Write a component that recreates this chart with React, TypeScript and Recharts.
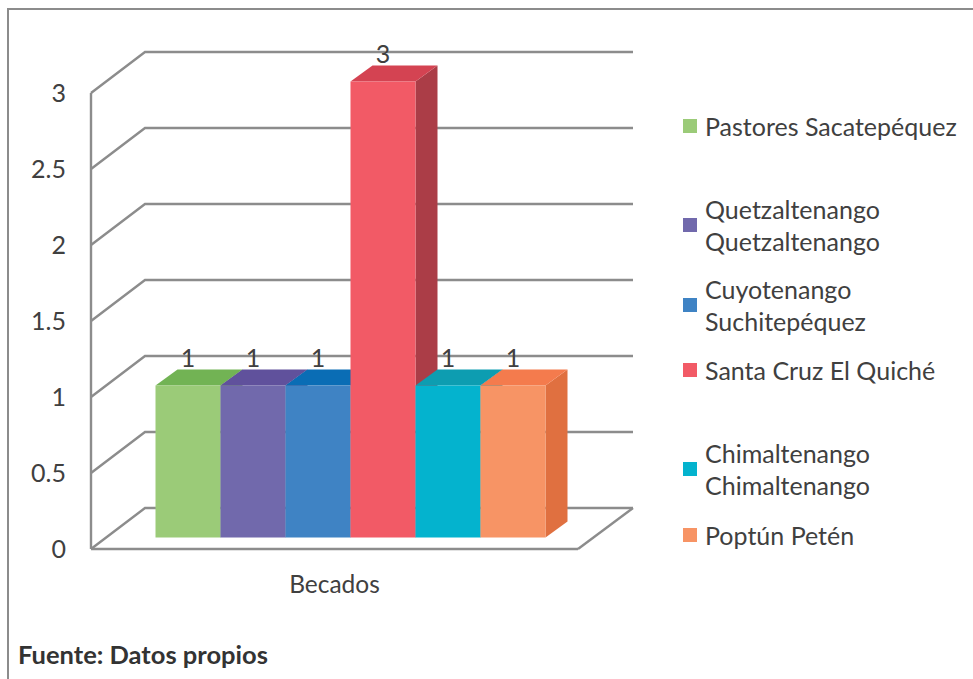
import { BarChart, Bar, XAxis, YAxis, CartesianGrid, Legend, LabelList } from 'recharts';

const categories = ['Becados'];
const seriesNames = [
  'Pastores Sacatepéquez',
  'Quetzaltenango Quetzaltenango',
  'Cuyotenango Suchitepéquez',
  'Santa Cruz El Quiché',
  'Chimaltenango Chimaltenango',
  'Poptún Petén',
];
const seriesValues = [1, 1, 1, 3, 1, 1];
const yTicks = [0, 0.5, 1, 1.5, 2, 2.5, 3];

const FRONT_COLORS = ['#9bcb78', '#7169ac', '#3f83c4', '#f25a66', '#04b3ce', '#f79465'];
const TOP_COLORS = ['#72b354', '#60519c', '#0a6db5', '#d44352', '#0d9db1', '#f47b4d'];
const SIDE_COLORS = ['#7fa860', '#5a528c', '#2f6a9f', '#ab3d47', '#0a8ea3', '#e07040'];

// vertical centre of each legend row, the rows are not evenly spaced in the original
const LEGEND_CENTERS = [126, 225, 305, 370, 469, 535];

const TEXT = '#404040';
const LINE = '#8c8c8c';
const FONT = 'Lato, sans-serif';
const PLOT_BOTTOM = 549;
const WALL_DX = 54;
const WALL_DY = -41;
const BAR_SHIFT_X = 15.5;
const BAR_SHIFT_Y = -11.5;
const DEPTH_DX = 22;
const DEPTH_DY = -16;

const data = categories.map((name) => {
  const row: { [key: string]: any } = { name };
  seriesNames.forEach((s, i) => {
    row[s] = seriesValues[i];
  });
  return row;
});

function GridLine({ x1, x2, y1 }: any) {
  const isFloor = Math.abs(y1 - PLOT_BOTTOM) < 1;
  const backLeft = x1 + WALL_DX;
  const backRight = x2 + WALL_DX + 1;
  const backY = y1 + WALL_DY;
  return (
    <g key={y1}>
      <path d={`M${x1},${y1} L${backLeft},${backY} L${backRight},${backY}`} fill="none" stroke={LINE} strokeWidth={2.4} />
      {isFloor && <path d={`M${backRight},${backY} L${x2},${y1}`} fill="none" stroke={LINE} strokeWidth={2.4} />}
    </g>
  );
}

function Bar3D({ x, y, width, height, index }: any) {
  const left = x + BAR_SHIFT_X;
  const right = left + width;
  const top = y + BAR_SHIFT_Y;
  const bottom = top + height;
  return (
    <g>
      <path
        d={`M${right},${top} L${right + DEPTH_DX},${top + DEPTH_DY} L${right + DEPTH_DX},${bottom + DEPTH_DY} L${right},${bottom} Z`}
        fill={SIDE_COLORS[index]}
      />
      <path
        d={`M${left},${top} L${left + DEPTH_DX},${top + DEPTH_DY} L${right + DEPTH_DX},${top + DEPTH_DY} L${right},${top} Z`}
        fill={TOP_COLORS[index]}
      />
      <rect x={left} y={top} width={width} height={height} fill={FRONT_COLORS[index]} />
    </g>
  );
}

function LegendContent({ payload }: any) {
  return (
    <div style={{ position: 'relative', width: 293, height: 679 }}>
      {(payload || []).map((item: any, i: number) => (
        <div
          key={item.value}
          style={{
            position: 'absolute',
            left: 0,
            top: LEGEND_CENTERS[i],
            transform: 'translateY(-50%)',
            display: 'flex',
            alignItems: 'center',
            width: 293,
            fontFamily: FONT,
            fontSize: 25,
            lineHeight: '32px',
            color: TEXT,
          }}
        >
          <span style={{ width: 14, height: 14, background: item.color, marginLeft: 3, marginRight: 8, flexShrink: 0 }} />
          <span style={{ maxWidth: 265 }}>{item.value}</span>
        </div>
      ))}
    </div>
  );
}

export default function App() {
  return (
    <div style={{ position: 'absolute', left: 0, top: 0, width: 973, height: 679, overflow: 'hidden', background: '#fff' }}>
      <div
        style={{
          position: 'absolute',
          left: 7,
          top: 8,
          width: 980,
          height: 700,
          borderLeft: `2.5px solid ${LINE}`,
          borderTop: `2.5px solid ${LINE}`,
        }}
      />
      <BarChart
        width={973}
        height={679}
        data={data}
        barSize={65}
        barGap={0}
        margin={{ top: 93, right: 395, bottom: 80, left: 41 }}
        style={{ position: 'absolute', left: 0, top: 0 }}
      >
        <CartesianGrid vertical={false} horizontal={(props: any) => <GridLine {...props} />} />
        <XAxis
          dataKey="name"
          height={50}
          tickLine={false}
          tickMargin={21}
          axisLine={{ stroke: LINE, strokeWidth: 2.4 }}
          tick={{ fill: TEXT, fontSize: 24.5, fontFamily: FONT }}
        />
        <YAxis
          width={50}
          domain={[0, 3]}
          ticks={yTicks}
          interval={0}
          tickLine={false}
          tickSize={0}
          tickMargin={25}
          axisLine={{ stroke: LINE, strokeWidth: 2.4 }}
          tick={{ fill: TEXT, fontSize: 25, fontFamily: FONT }}
        />
        <Legend
          layout="horizontal"
          verticalAlign="middle"
          itemSorter={null}
          content={<LegendContent />}
          wrapperStyle={{ left: 680, top: 0, width: 293, height: 679 }}
        />
        {seriesNames.map((s, i) => (
          <Bar
            key={s}
            dataKey={s}
            name={s}
            fill={FRONT_COLORS[i]}
            isAnimationActive={false}
            shape={(props: any) => <Bar3D {...props} index={i} />}
          >
            <LabelList
              dataKey={s}
              position="top"
              offset={30}
              dx={BAR_SHIFT_X}
              fill={TEXT}
              fontSize={25}
              fontFamily={FONT}
            />
          </Bar>
        ))}
      </BarChart>
      <div
        style={{
          position: 'absolute',
          left: 18,
          top: 640,
          fontFamily: FONT,
          fontSize: 25.5,
          fontWeight: 700,
          color: '#333',
          lineHeight: '28px',
        }}
      >
        Fuente: Datos propios
      </div>
    </div>
  );
}
